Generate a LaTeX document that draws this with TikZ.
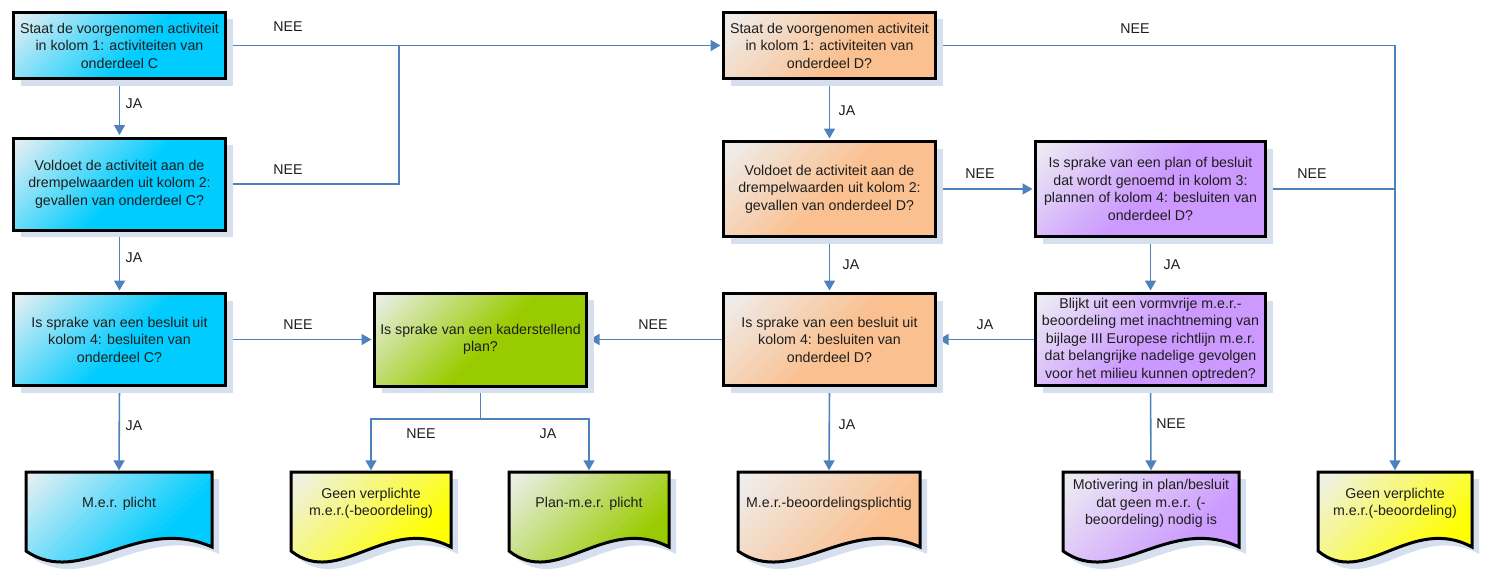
\documentclass[tikz,border=0pt]{standalone}
\usepackage{fontspec}
\setmainfont{Liberation Sans}
\usetikzlibrary{arrows.meta,shadows,calc}
\definecolor{cyanc}{RGB}{0,204,255}
\definecolor{orc}{RGB}{250,192,143}
\definecolor{grc}{RGB}{153,204,0}
\definecolor{puc}{RGB}{204,153,255}
\definecolor{yec}{RGB}{255,255,0}
\definecolor{linec}{RGB}{79,129,189}
\definecolor{shadowc}{RGB}{214,223,237}
\definecolor{txtc}{RGB}{30,30,30}
\definecolor{lightc}{RGB}{238,240,242}
\pgfdeclarelayer{bg}
\pgfsetlayers{bg,main}
% diagonal gradient from the top-left corner, built of overlapping triangles
\newcommand\gradfill[2]{%
  \fill[#1] (path picture bounding box.north west) rectangle (path picture bounding box.south east);
  \foreach \k in {24,23,...,1}{%
    \pgfmathsetmacro\aa{#2*\k/24*1.4142}%
    \pgfmathtruncatemacro\pc{100*(\k-0.5)/24}%
    \fill[#1!\pc!lightc] (path picture bounding box.north west) -- ++(\aa pt,0pt) -- ++(-\aa pt,-\aa pt) -- cycle;
  }%
}
\newcommand\mydoc[7]{%
  \fill[shadowc] (#2+7,#4+7) -- (#3+7,#4+7) -- (#3+7,#5+3) .. controls ({#2+7+0.6*(#3-#2)},#5-30) and ({#2+7+0.3*(#3-#2)},#5+45) .. (#2+7,#5+7) -- cycle;
  \path[docbox, dgrad=#6] (#2,#4) -- (#3,#4) -- (#3,#5-4) .. controls ({#2+0.6*(#3-#2)},#5-37) and ({#2+0.3*(#3-#2)},#5+38) .. (#2,#5) -- cycle;
  \node[minimum width={#3-#2}, minimum height={#5-#4-16}, inner sep=0pt, align=center] (#1) at ({(#2+#3)/2},{(#4+#5-16)/2}) {#7};
}
\begin{document}
\begin{tikzpicture}[x=1pt,y=-1pt,
  every node/.style={font=\fontsize{14.2}{17.5}\selectfont, text=txtc},
  qbox/.style={draw=black, line width=3pt, align=center, inner sep=2pt,
    drop shadow={shadow xshift=7pt,shadow yshift=-7pt,fill=shadowc,opacity=1}},
  grad/.style 2 args={fill=#1, path picture={\gradfill{#1}{#2}}},
  qgrad/.style={grad={#1}{115}},
  dgrad/.style={grad={#1}{140}},
  docbox/.style={draw=black, line width=3pt},
  conn/.style={draw=linec, line width=1.6pt, shorten >=1.5pt, -{Triangle[length=10pt,width=11pt]}},
  link/.style={draw=linec, line width=1.6pt},
  lab/.style={inner sep=0pt}]
\useasboundingbox (0,0) rectangle (1486,578);

% question boxes
\node[qbox, qgrad=cyanc, minimum width=212pt, minimum height=66pt] (c1) at (119.5,45.5)
  {Staat de voorgenomen activiteit\\in kolom 1: activiteiten van\\onderdeel C};
\node[qbox, qgrad=cyanc, minimum width=212pt, minimum height=92pt] (c2) at (119.5,184)
  {Voldoet de activiteit aan de\\drempelwaarden uit kolom 2:\\gevallen van onderdeel C?};
\node[qbox, qgrad=cyanc, minimum width=212pt, minimum height=92pt] (c3) at (119.5,339.5)
  {Is sprake van een besluit uit\\kolom 4: besluiten van\\onderdeel C?};
\node[qbox, qgrad=grc, minimum width=212pt, minimum height=93pt] (k) at (480.5,339.5)
  {Is sprake van een kaderstellend\\plan?};
\node[qbox, qgrad=orc, minimum width=212pt, minimum height=66pt] (d1) at (829.5,45.5)
  {Staat de voorgenomen activiteit\\in kolom 1: activiteiten van\\onderdeel D?};
\node[qbox, qgrad=orc, minimum width=212pt, minimum height=95pt] (d2) at (829.5,189)
  {Voldoet de activiteit aan de\\drempelwaarden uit kolom 2:\\gevallen van onderdeel D?};
\node[qbox, qgrad=orc, minimum width=212pt, minimum height=92pt] (d3) at (829.5,339.5)
  {Is sprake van een besluit uit\\kolom 4: besluiten van\\onderdeel D?};
\node[qbox, qgrad=puc, minimum width=230pt, minimum height=95pt] (p1) at (1150.5,189)
  {Is sprake van een plan of besluit\\dat wordt genoemd in kolom 3:\\plannen of kolom 4: besluiten van\\onderdeel D?};
\node[qbox, qgrad=puc, minimum width=230pt, minimum height=92pt] (p2) at (1150.5,339.5)
  {Blijkt uit een vormvrije m.e.r.-\\beoordeling met inachtneming van\\bijlage III Europese richtlijn m.e.r.\\dat belangrijke nadelige gevolgen\\voor het milieu kunnen optreden?};

% documents
\mydoc{cdoc}{26}{212}{472}{551}{cyanc}{M.e.r. plicht}
\mydoc{y1}{291}{451}{472}{551}{yec}{Geen verplichte\\m.e.r.(-beoordeling)}
\mydoc{g2}{509}{669}{472}{551}{grc}{Plan-m.e.r. plicht}
\mydoc{ddoc}{738}{920}{472}{551}{orc}{M.e.r.-beoordelingsplichtig}
\mydoc{pdoc}{1063}{1239}{472}{551}{puc}{Motivering in plan/besluit\\dat geen m.e.r. (-\\beoordeling) nodig is}
\mydoc{y2}{1318}{1472}{472}{551}{yec}{Geen verplichte\\m.e.r.(-beoordeling)}

% labels
\node[lab] (n1) at (288,27) {NEE};
\node[lab] (n2) at (288,170) {NEE};
\node[lab] (j1l) at (134,104) {JA};
\node[lab] (j2l) at (134,258) {JA};
\node[lab] (n3) at (298,325) {NEE};
\node[lab] (j3l) at (134,426) {JA};
\node[lab] (n4) at (421,434) {NEE};
\node[lab] (j4l) at (548,434) {JA};
\node[lab] (n5) at (653,325) {NEE};
\node[lab] (j5l) at (847,111) {JA};
\node[lab] (n6) at (1135,29) {NEE};
\node[lab] (n7) at (980,174) {NEE};
\node[lab] (n8) at (1312,174) {NEE};
\node[lab] (j6l) at (851,265) {JA};
\node[lab] (j7l) at (1172,265) {JA};
\node[lab] (j8l) at (985,325) {JA};
\node[lab] (j9l) at (847,425) {JA};
\node[lab] (n9) at (1171,424) {NEE};

% connectors
\coordinate (jn) at (399,45.5);
\coordinate (kb) at (480.5,419);
\begin{pgfonlayer}{bg}
\draw[conn] (c1.south) -- (c2.north);
\draw[conn] (c2.south) -- (c3.north);
\draw[conn] (c3.south) -- (cdoc.north);
\draw[conn] (c1.east) -- (d1.west);
\draw[link] (c2.east) -| (jn);
\draw[conn] (c3.east) -- (k.west);
\draw[conn] (d3.west) -- (k.east);
\draw[link] (k.south) -- (kb);
\draw[conn] (kb) -| (y1.north);
\draw[conn] (kb) -| (g2.north);
\draw[conn] (d1.south) -- (d2.north);
\draw[conn] (d2.south) -- (d3.north);
\draw[conn] (d3.south) -- (ddoc.north);
\draw[conn] (d2.east) -- (p1.west);
\draw[conn] (p1.south) -- (p2.north);
\draw[conn] (p2.west) -- (d3.east);
\draw[conn] (p2.south) -- (pdoc.north);
\draw[conn] (d1.east) -| (y2.north);
\draw[link] (p1.east) -- (p1.east -| y2.north);
\end{pgfonlayer}
\end{tikzpicture}
\end{document}
